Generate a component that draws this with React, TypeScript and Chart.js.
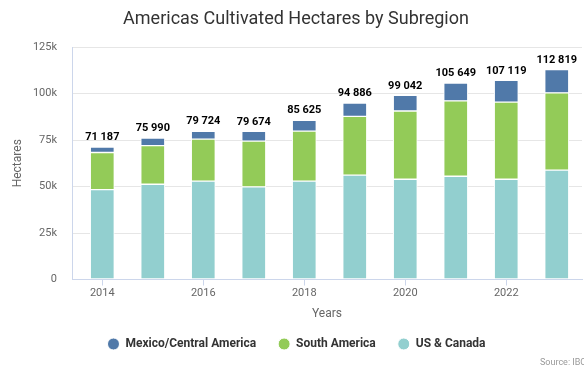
import React, { useEffect, useRef } from "react";
import { Chart, registerables } from "chart.js";

Chart.register(...registerables);

const YEARS = [2014, 2015, 2016, 2017, 2018, 2019, 2020, 2021, 2022, 2023];
const US_CANADA = [48300, 51200, 52900, 49800, 52900, 56100, 53900, 55500, 53900, 58800];
const SOUTH_AMERICA = [20000, 20800, 22600, 24600, 26900, 31600, 36700, 40500, 41500, 41500];
const MEXICO_CA = [2887, 3990, 4224, 5274, 5825, 7186, 8442, 9649, 11719, 12519];
const X_TICKS = [2014, 2016, 2018, 2020, 2022];
const Y_TICKS = [0, 25000, 50000, 75000, 100000, 125000];

const FONT = "Roboto";

function fmt(v: number): string {
  const s = String(Math.round(v));
  return s.replace(/\B(?=(\d{3})+(?!\d))/g, " ");
}

const totalsPlugin = {
  id: "totals",
  afterLayout(chart: any) {
    if (chart.titleBlock) chart.titleBlock.left = 10;
    if (chart.legend) chart.legend.left = 11;
  },
  afterDatasetsDraw(chart: any) {
    const ctx = chart.ctx;
    const n = chart.data.datasets.length;
    const topMeta = chart.getDatasetMeta(n - 1);
    ctx.save();
    ctx.font = `bold 11px ${FONT}`;
    ctx.fillStyle = "#000";
    ctx.textAlign = "center";
    ctx.textBaseline = "bottom";
    YEARS.forEach((_, i) => {
      let total = 0;
      chart.data.datasets.forEach((ds: any) => (total += ds.data[i].y));
      const el = topMeta.data[i];
      ctx.fillText(fmt(total), el.x, el.y - 4);
    });
    ctx.restore();
  },
  afterDraw(chart: any) {
    const ctx = chart.ctx;
    ctx.save();
    ctx.font = `9px ${FONT}`;
    ctx.fillStyle = "#999";
    ctx.textAlign = "left";
    ctx.textBaseline = "middle";
    ctx.fillText("Source: IBC", 540, 363);
    ctx.restore();
  },
};

export default function App() {
  const ref = useRef<HTMLCanvasElement>(null);
  useEffect(() => {
    document.body.style.margin = "0";
    const mk = (vals: number[]) => vals.map((v, i) => ({ x: YEARS[i], y: v }));
    const common = { barThickness: 24, borderColor: "#ffffff", borderWidth: 1, borderSkipped: false };
    const chart = new Chart(ref.current!, {
      type: "bar",
      data: {
        datasets: [
          { label: "US & Canada", data: mk(US_CANADA), backgroundColor: "#92cfcf", ...common },
          { label: "South America", data: mk(SOUTH_AMERICA), backgroundColor: "#93cb58", ...common },
          { label: "Mexico/Central America", data: mk(MEXICO_CA), backgroundColor: "#5079a9", ...common },
        ] as any,
      },
      options: {
        responsive: false,
        animation: false,
        layout: { padding: { left: 0, right: 2, top: 0, bottom: 8 } },
        plugins: {
          tooltip: { enabled: false },
          title: {
            display: true,
            text: "Americas Cultivated Hectares by Subregion",
            color: "#333333",
            font: { family: FONT, size: 18, weight: "normal" },
            padding: { top: 9, bottom: 16.4 },
          },
          legend: {
            position: "bottom",
            labels: {
              usePointStyle: true,
              pointStyle: "circle",
              pointStyleWidth: 12,
              boxHeight: 8.5,
              boxWidth: 12,
              padding: 22,
              color: "#333333",
              font: { family: FONT, size: 12, weight: "bold" },
              sort: (a: any, b: any) => b.datasetIndex - a.datasetIndex,
            },
          },
        },
        scales: {
          x: {
            type: "linear",
            stacked: true,
            offset: false,
            min: 2013.4,
            max: 2023.5,
            afterBuildTicks: (axis: any) => {
              axis.ticks = X_TICKS.map((v) => ({ value: v }));
            },
            afterFit: (axis: any) => {
              axis.height = 36.5;
            },
            grid: { offset: false, drawOnChartArea: false, drawTicks: true, tickLength: 6, color: "#ccd6eb" },
            border: { display: true, color: "#ccd6eb" },
            ticks: {
              color: "#666666",
              font: { family: FONT, size: 11 },
              padding: 1,
              callback: (v: any) => String(v),
            },
            title: {
              display: true,
              text: "Years",
              color: "#666666",
              font: { family: FONT, size: 12 },
              padding: { top: 0, bottom: -5 },
            },
          },
          y: {
            stacked: true,
            min: 0,
            max: 125000,
            afterBuildTicks: (axis: any) => {
              axis.ticks = Y_TICKS.map((v) => ({ value: v }));
            },
            afterFit: (axis: any) => {
              axis.width = 72;
            },
            grid: { color: "#e6e6e6", drawTicks: false },
            border: { display: true, color: "#ccd6eb" },
            ticks: {
              color: "#666666",
              font: { family: FONT, size: 11 },
              padding: 15,
              callback: (v: any) => (v === 0 ? "0" : v / 1000 + "k"),
            },
            title: {
              display: true,
              text: "Hectares",
              color: "#666666",
              font: { family: FONT, size: 12 },
              padding: { top: 11, bottom: 0 },
            },
          },
        },
      } as any,
      plugins: [totalsPlugin],
    });
    return () => chart.destroy();
  }, []);
  return (
    <div style={{ width: 584, height: 368 }}>
      <canvas ref={ref} width={584} height={368} />
    </div>
  );
}
